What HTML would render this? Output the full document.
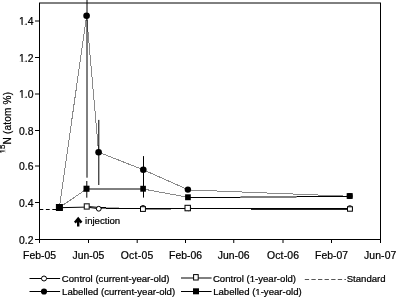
<!DOCTYPE html>
<html><head><meta charset="utf-8">
<style>
html,body{margin:0;padding:0;background:#fff;}
body{width:396px;height:297px;overflow:hidden;}
svg{display:block;will-change:transform;}
text{font-family:"Liberation Sans",sans-serif;fill:#000;stroke:#000;stroke-width:0.22px;}
.ax{font-size:10.4px;}
.lg{font-size:9.6px;}
</style></head><body>
<svg width="396" height="297" viewBox="0 0 396 297">
<rect width="396" height="297" fill="#fff"/>
<!-- frame -->
<line x1="39" y1="3" x2="381" y2="3" stroke="#000" stroke-width="1"/>
<line x1="39.5" y1="3" x2="39.5" y2="243" stroke="#000" stroke-width="1"/>
<line x1="380.5" y1="3" x2="380.5" y2="243" stroke="#000" stroke-width="1"/>
<line x1="35" y1="239.5" x2="381" y2="239.5" stroke="#000" stroke-width="1"/>
<!-- y ticks -->
<g stroke="#000" stroke-width="1">
<line x1="35" y1="21" x2="39" y2="21"/>
<line x1="35" y1="57.5" x2="39" y2="57.5"/>
<line x1="35" y1="94" x2="39" y2="94"/>
<line x1="35" y1="130.5" x2="39" y2="130.5"/>
<line x1="35" y1="166" x2="39" y2="166"/>
<line x1="35" y1="202.5" x2="39" y2="202.5"/>
</g>
<!-- x ticks -->
<g stroke="#000" stroke-width="1">
<line x1="88.5" y1="240" x2="88.5" y2="243"/>
<line x1="137.2" y1="240" x2="137.2" y2="243"/>
<line x1="185.5" y1="240" x2="185.5" y2="243"/>
<line x1="233.75" y1="240" x2="233.75" y2="243"/>
<line x1="283" y1="240" x2="283" y2="243"/>
<line x1="331.5" y1="240" x2="331.5" y2="243"/>
</g>
<!-- y labels -->
<g class="ax" text-anchor="end">
<text x="33.5" y="24.9">1.4</text>
<text x="33.5" y="62.1">1.2</text>
<text x="33.5" y="97.7">1.0</text>
<text x="33.5" y="135.1">0.8</text>
<text x="33.5" y="169.7">0.6</text>
<text x="33.5" y="207.1">0.4</text>
<text x="33.5" y="244.1">0.2</text>
</g>
<g fill="#fff">
<rect x="18.8" y="23.95" width="2.75" height="1.5"/><rect x="22.72" y="23.95" width="1.9" height="1.5"/>
<rect x="18.8" y="61.15" width="2.75" height="1.5"/><rect x="22.72" y="61.15" width="1.9" height="1.5"/>
<rect x="18.8" y="96.75" width="2.75" height="1.5"/><rect x="22.72" y="96.75" width="1.9" height="1.5"/>
</g>
<!-- x labels -->
<g class="ax" text-anchor="middle">
<text x="39.5" y="258.5">Feb-05</text>
<text x="88.5" y="258.5">Jun-05</text>
<text x="137.2" y="258.5" letter-spacing="0.28">Oct-05</text>
<text x="185.5" y="258.5">Feb-06</text>
<text x="233.7" y="258.5">Jun-06</text>
<text x="283.1" y="258.5" letter-spacing="0.2">Oct-06</text>
<text x="331.5" y="258.5">Feb-07</text>
<text x="380.2" y="258.5" letter-spacing="0.12">Jun-07</text>
</g>
<!-- y title -->
<text transform="translate(10.5,153.4) rotate(-90)" font-size="10" letter-spacing="0.22"><tspan font-size="8" dy="-5.8" letter-spacing="0">15</tspan><tspan dy="5.8">N (atom %)</tspan></text>
<g transform="translate(10.5,153.4) rotate(-90)" fill="#fff"><rect x="0.3" y="-6.6" width="1.65" height="1.1"/><rect x="2.8" y="-6.6" width="1.5" height="1.1"/></g>

<!-- standard dashed -->
<line x1="39.5" y1="209.5" x2="57" y2="209.5" stroke="#000" stroke-width="1" stroke-dasharray="3.8 2.6"/>

<!-- series lines -->
<g fill="none" stroke="#000" stroke-width="1">
<polyline points="59.4,207.7 86.6,207.1 98.75,208.7 101.5,208.5"/>
<polyline points="86.6,206.4 99.5,207.5"/>
</g>
<g fill="#000">
<rect x="101" y="208" width="5" height="1" fill-opacity="0.55"/>
<rect x="106" y="208" width="243.8" height="1"/>
<rect x="99" y="207" width="7" height="1"/>
<rect x="106" y="207" width="13" height="1" fill-opacity="0.3"/>
<rect x="146" y="209" width="25" height="1" fill-opacity="0.45"/>
<rect x="251" y="209" width="96" height="1" fill-opacity="0.85"/>
</g>
<g fill="none" stroke="#8a8a8a" stroke-width="1" shape-rendering="crispEdges">
<polyline points="59.4,207.5 86.6,15.8 98.6,152.2 143.3,169.8 187.9,189.6"/>
<polyline points="187.9,189.86 349.7,196.26"/>
<polyline points="59.4,207.5 86.6,189"/>
<polyline points="143.1,189 188,197.3"/>
</g>
<line x1="86.6" y1="189" x2="143.1" y2="189" stroke="#000" stroke-width="1"/>
<rect x="188" y="197" width="52.5" height="1" fill="#000"/>
<rect x="240.5" y="196" width="56" height="2" fill="#000" fill-opacity="0.5"/>
<rect x="296.5" y="196" width="53" height="1" fill="#000"/>
<!-- error bars -->
<g stroke="#000" stroke-width="1">
<line x1="87" y1="-10" x2="87" y2="177.7"/>
<line x1="98.8" y1="119.9" x2="98.8" y2="185"/>
<line x1="143.5" y1="156.1" x2="143.5" y2="183.5"/>
<line x1="86.8" y1="181" x2="86.8" y2="197.7"/>
<line x1="143.5" y1="180" x2="143.5" y2="197.6"/>
</g>
<!-- markers: control current (open circle) -->
<g fill="#fff" stroke="#000" stroke-width="1">
<circle cx="59.4" cy="207.5" r="2.5"/>
<circle cx="98.75" cy="208.75" r="2.4"/>
<circle cx="143" cy="208" r="2.5"/>
<circle cx="188.3" cy="208.2" r="2.5"/>
<circle cx="349.9" cy="208.2" r="2.5"/>
</g>
<!-- control 1yr (open square) -->
<g fill="#fff" stroke="#000" stroke-width="1">
<rect x="56.4" y="204.5" width="6" height="6"/>
<rect x="84.3" y="203.8" width="4.9" height="5.3" stroke="#222" stroke-width="1.15"/>
<rect x="140.5" y="206.7" width="4.9" height="4.7"/>
<rect x="185" y="205.3" width="5.4" height="5.5"/>
<rect x="347.5" y="206.8" width="4.9" height="4.4"/>
</g>
<!-- labelled current (filled circle) -->
<g fill="#000">
<circle cx="59.4" cy="207.6" r="2.8"/>
<circle cx="86.6" cy="15.8" r="3.3"/>
<circle cx="98.6" cy="152.2" r="3.3"/>
<circle cx="143.3" cy="169.8" r="3.3"/>
<circle cx="187.9" cy="189.6" r="3.2"/>
<circle cx="349.7" cy="196" r="2.9"/>
</g>
<!-- labelled 1yr (filled square) -->
<g fill="#000">
<rect x="56.2" y="204.6" width="6.2" height="6.0"/>
<rect x="83.5" y="185.7" width="6" height="6.1"/>
<rect x="140.3" y="185.8" width="5.6" height="5.9"/>
<rect x="185.1" y="194.3" width="5.7" height="5.9"/>
<rect x="346.7" y="193.1" width="6" height="5.8"/>
</g>

<!-- injection -->
<path d="M78.2 226.5 V219.5 M74.9 222.6 L78.2 218.7 L81.5 222.6" fill="none" stroke="#000" stroke-width="2.4"/>
<text class="lg" x="85" y="223.8">injection</text>

<!-- legend -->
<g stroke="#000" stroke-width="1" fill="none">
<line x1="29.5" y1="278.5" x2="60.1" y2="278.5"/>
<line x1="29.5" y1="291.5" x2="60.1" y2="291.5"/>
<line x1="181" y1="278" x2="211.6" y2="278"/>
<line x1="181" y1="291.5" x2="211.6" y2="291.5"/>
<line x1="304.8" y1="279.5" x2="346" y2="279.5" stroke="#555" stroke-dasharray="4.3 2.3"/>
</g>
<circle cx="44" cy="278.5" r="2.5" fill="#fff" stroke="#000" stroke-width="1"/>
<circle cx="44" cy="291.5" r="3.1" fill="#000"/>
<rect x="193.6" y="274.6" width="4.6" height="5.4" fill="#fff" stroke="#000" stroke-width="1"/>
<rect x="193" y="288.3" width="6" height="6" fill="#000"/>
<g class="lg">
<text x="61.8" y="282.4">Control (current-year-old)</text>
<text x="62.1" y="295">Labelled (current-year-old)</text>
<text x="212.9" y="282.4">Control (1-year-old)</text>
<text x="213.2" y="295">Labelled (1-year-old)</text>
<text x="346.7" y="282.4">Standard</text>
</g>
<g fill="#fff">
<rect x="250.08" y="281.5" width="1.9" height="1.4"/><rect x="253.06" y="281.5" width="1.82" height="1.4"/>
<rect x="255.72" y="294.1" width="1.9" height="1.4"/><rect x="258.7" y="294.1" width="1.82" height="1.4"/>
</g>
</svg>
</body></html>
